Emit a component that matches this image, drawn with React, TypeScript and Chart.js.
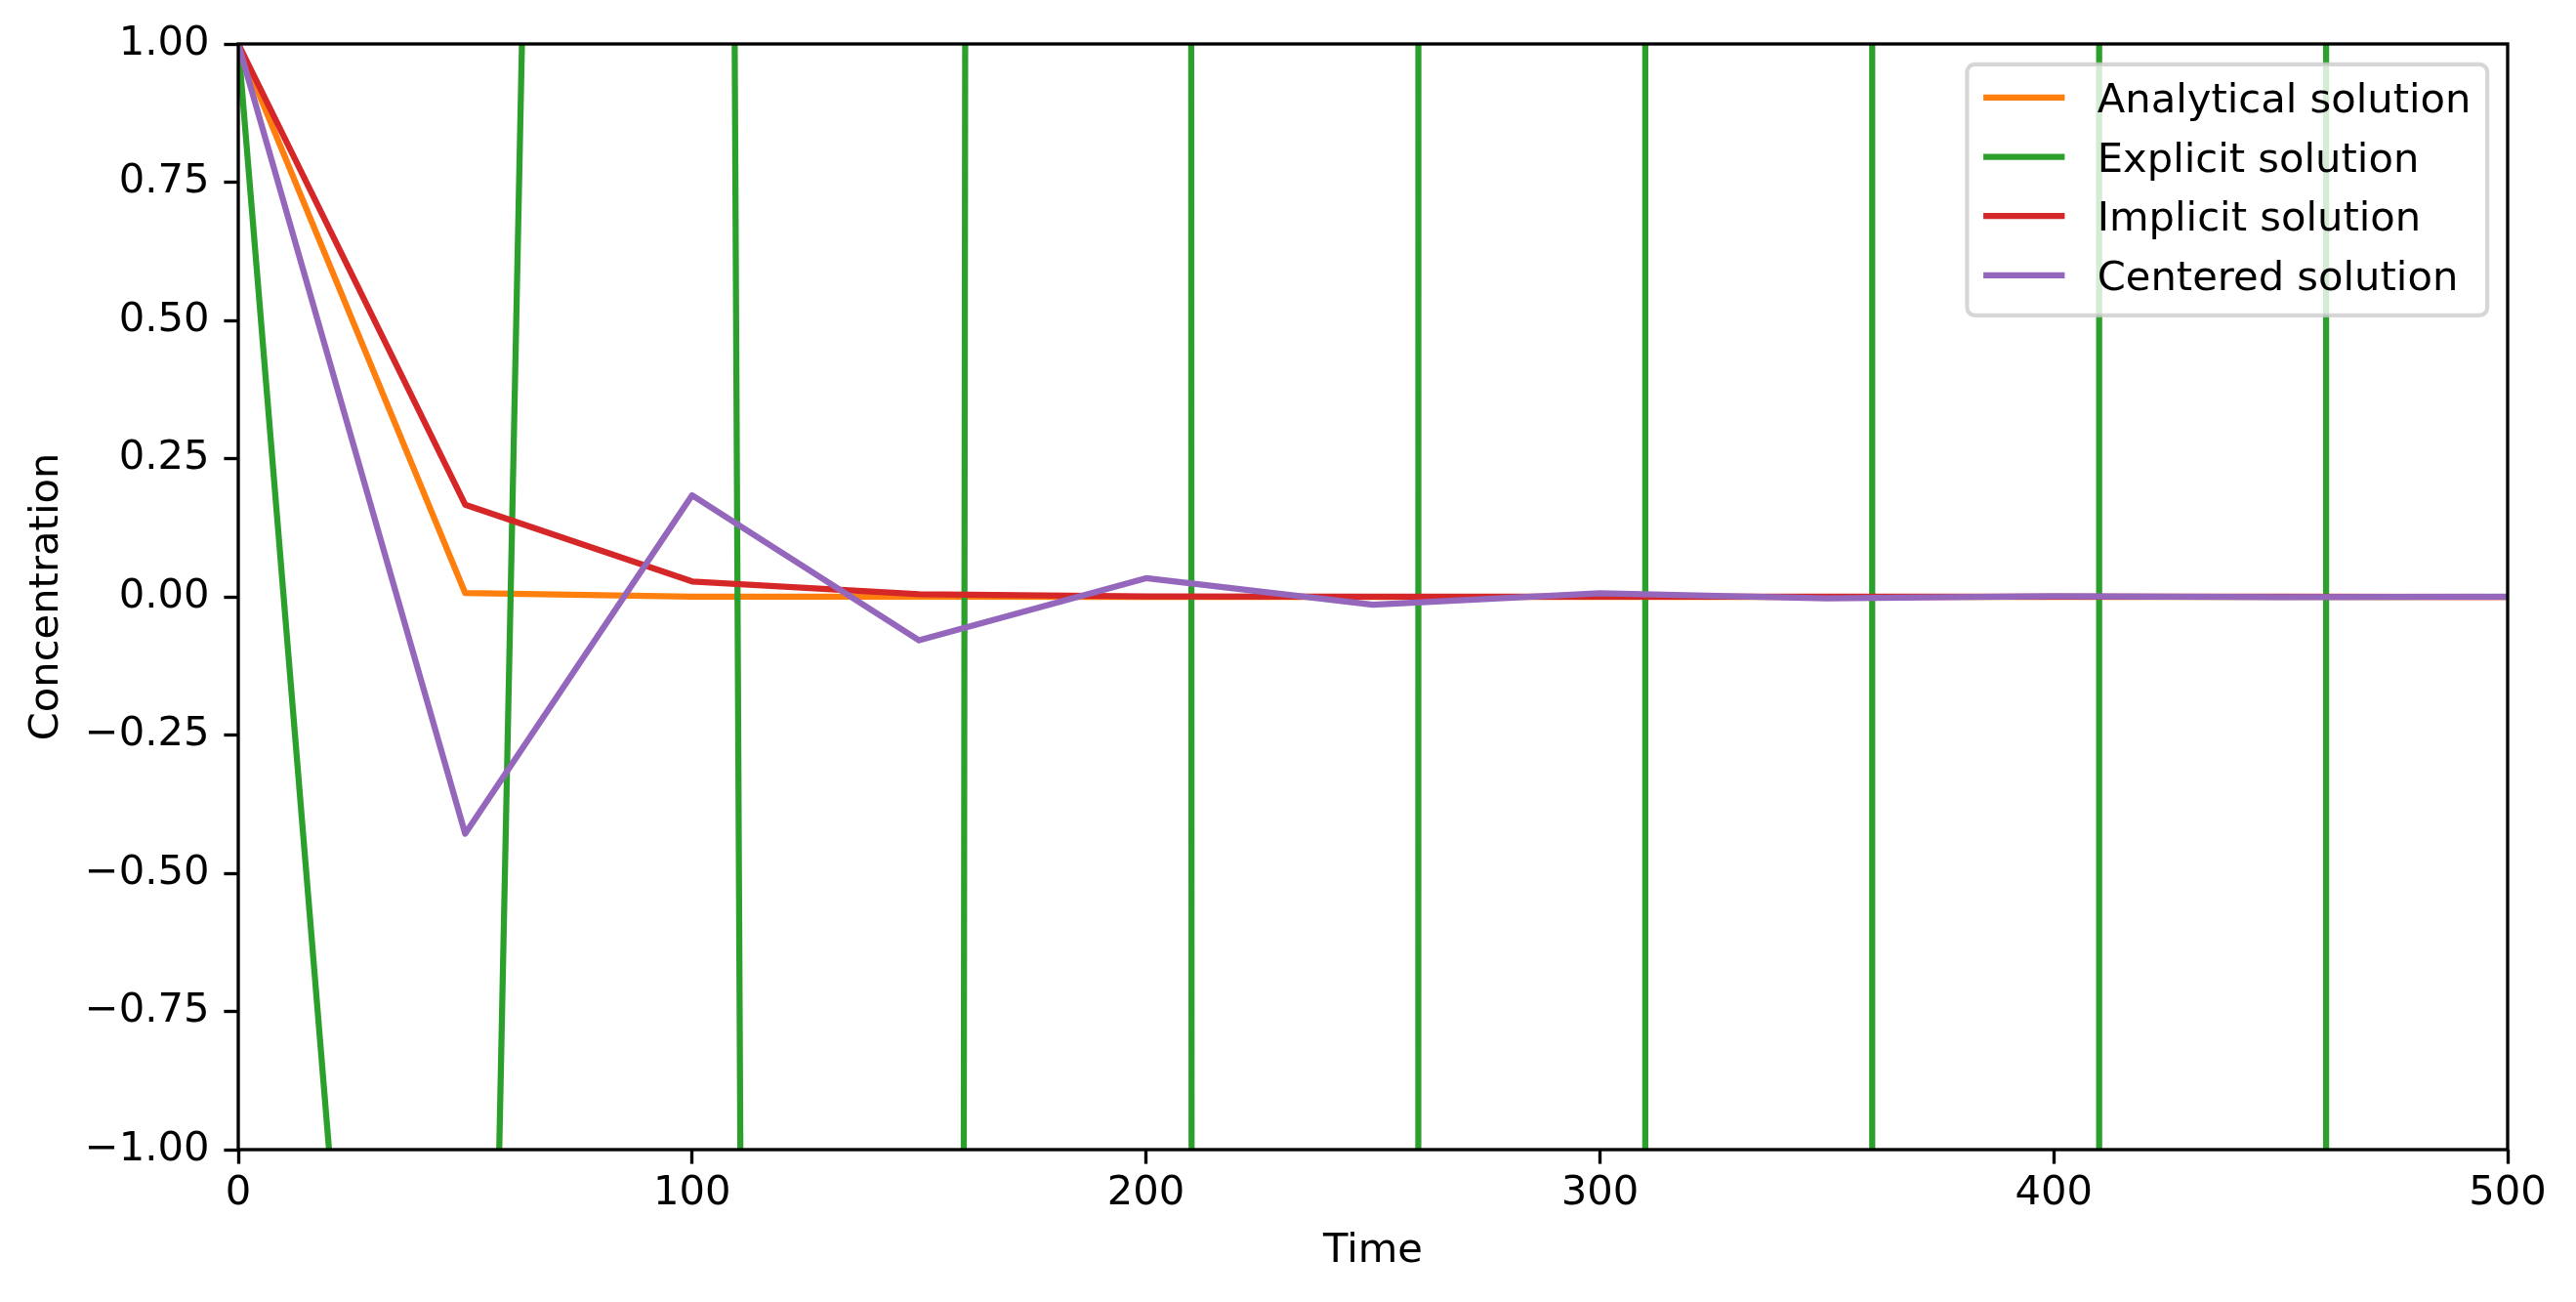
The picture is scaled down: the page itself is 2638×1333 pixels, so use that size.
import React, { useEffect, useRef } from 'react';
import { Chart, registerables, LinearScale } from 'chart.js';

// Linear scale without Chart.js's int16 pixel clamp, so very steep segments cross the axes at the true place
class UnclampedLinearScale extends LinearScale {
  static id = 'linearUnclamped';
  static defaults = (LinearScale as any).defaults;
  getPixelForDecimal(decimal: number) {
    const self: any = this;
    if (self._reversePixels) decimal = 1 - decimal;
    return self._startPixel + decimal * self._length;
  }
}

Chart.register(...registerables, UnclampedLinearScale);

// ---- data ----
const time = [0, 50, 100, 150, 200, 250, 300, 350, 400, 450, 500];
const analytical = [1, 0.006738, 0.0000454, 0.000000306, 0.00000000206, 0.0000000000139, 0, 0, 0, 0, 0];
const explicit = [1, -4, 16, -64, 256, -1024, 4096, -16384, 65536, -262144, 1048576];
const implicit = [1, 0.16667, 0.027778, 0.0046296, 0.0007716, 0.0001286, 0.0000214, 0.00000357, 0.000000595, 0.0000000992, 0.0000000165];
const centered = [1, -0.42857, 0.18367, -0.07872, 0.03374, -0.01446, 0.006196, -0.002656, 0.001138, -0.000488, 0.000209];

const seriesLabels = ['Analytical solution', 'Explicit solution', 'Implicit solution', 'Centered solution'];
const seriesColors = ['#ff7f0e', '#2ca02c', '#d62728', '#9467bd'];
const seriesValues = [analytical, explicit, implicit, centered];

const xTicks = [0, 100, 200, 300, 400, 500];
const yTicks = [-1, -0.75, -0.5, -0.25, 0, 0.25, 0.5, 0.75, 1];
const xTitle = 'Time';
const yTitle = 'Concentration';

// ---- style ----
const FONT = '"DejaVu Sans", sans-serif';
const FS = 41.67;
const LW = 6.25;
const AXW = 3.33;
const TICKLEN = 14.6;

const fmtY = (v: number) => {
  const s = Math.abs(v).toFixed(2);
  return v < 0 ? '\u2212' + s : s;
};

const framePlugin = {
  id: 'mplFrame',
  afterDatasetsDraw(chart: any) {
    const { ctx, chartArea: ca } = chart;
    ctx.save();
    ctx.strokeStyle = '#000';
    ctx.lineWidth = AXW;
    ctx.lineJoin = 'miter';
    ctx.strokeRect(ca.left, ca.top, ca.right - ca.left, ca.bottom - ca.top);
    ctx.restore();

    // legend
    ctx.save();
    ctx.font = `${FS}px ${FONT}`;
    const labels = chart.data.datasets.map((d: any) => d.label as string);
    const colors = chart.data.datasets.map((d: any) => d.borderColor as string);
    const maxW = Math.max(...labels.map((l: string) => ctx.measureText(l).width));
    const pad = 0.4 * FS;
    const handle = 2 * FS;
    const htp = 0.8 * FS;
    const right = ca.right - 0.5 * FS;
    const top = ca.top + 0.5 * FS;
    const width = pad + handle + htp + maxW + pad;
    const left = right - width;
    const height = 257;
    const r = 8;
    ctx.beginPath();
    ctx.roundRect(left, top, width, height, r);
    ctx.fillStyle = 'rgba(255,255,255,0.8)';
    ctx.fill();
    ctx.strokeStyle = 'rgba(204,204,204,0.8)';
    ctx.lineWidth = 4.17;
    ctx.stroke();
    labels.forEach((lab: string, i: number) => {
      const cy = top + 34 + i * 60.7;
      ctx.beginPath();
      ctx.strokeStyle = colors[i];
      ctx.lineWidth = LW;
      ctx.lineCap = 'butt';
      ctx.moveTo(left + pad, cy);
      ctx.lineTo(left + pad + handle, cy);
      ctx.stroke();
      ctx.fillStyle = '#000';
      ctx.textBaseline = 'alphabetic';
      ctx.textAlign = 'left';
      ctx.fillText(lab, left + pad + handle + htp, cy + 15);
    });
    ctx.restore();
  },
};

export default function App() {
  const ref = useRef<HTMLCanvasElement | null>(null);

  useEffect(() => {
    document.body.style.margin = '0';
    document.body.style.overflow = 'hidden';
    const canvas = ref.current;
    if (!canvas) return;

    const datasets = seriesLabels.map((label, i) => ({
      label,
      data: time.map((t, j) => ({ x: t, y: seriesValues[i][j] })),
      borderColor: seriesColors[i],
      backgroundColor: seriesColors[i],
      borderWidth: LW,
      pointRadius: 0,
      pointHoverRadius: 0,
      tension: 0,
      fill: false,
      clip: 0,
      order: seriesLabels.length - i,
      borderCapStyle: 'butt' as const,
      borderJoinStyle: 'round' as const,
    }));

    const chart = new Chart(canvas, {
      type: 'line',
      data: { datasets },
      options: {
        animation: false,
        responsive: false,
        maintainAspectRatio: false,
        devicePixelRatio: 1,
        events: [],
        layout: { padding: { left: 0, top: 45, right: 70, bottom: 0 } },
        plugins: {
          legend: { display: false },
          tooltip: { enabled: false },
        },
        scales: {
          x: {
            type: 'linear',
            min: 0,
            max: 500,
            afterBuildTicks: (scale: any) => {
              scale.ticks = xTicks.map((v) => ({ value: v }));
            },
            afterFit: (scale: any) => {
              scale.height = 156;
            },
            grid: {
              drawOnChartArea: false,
              drawTicks: true,
              tickLength: TICKLEN,
              tickWidth: AXW,
              tickColor: '#000',
            },
            border: { display: false },
            ticks: {
              autoSkip: false,
              maxRotation: 0,
              padding: 6,
              color: '#000',
              font: { family: FONT, size: FS },
              callback: (v: any) => String(v),
            },
            title: {
              display: true,
              text: xTitle,
              color: '#000',
              font: { family: FONT, size: FS },
              padding: { top: 0, bottom: 27 },
            },
          },
          y: {
            type: 'linearUnclamped' as any,
            min: -1,
            max: 1,
            afterBuildTicks: (scale: any) => {
              scale.ticks = yTicks.map((v) => ({ value: v }));
            },
            afterFit: (scale: any) => {
              scale.width = 244;
            },
            grid: {
              drawOnChartArea: false,
              drawTicks: true,
              tickLength: TICKLEN,
              tickWidth: AXW,
              tickColor: '#000',
            },
            border: { display: false },
            ticks: {
              autoSkip: false,
              padding: 15,
              color: '#000',
              font: { family: FONT, size: FS },
              callback: (v: any) => fmtY(Number(v)),
            },
            title: {
              display: true,
              text: yTitle,
              color: '#000',
              font: { family: FONT, size: FS },
              padding: { top: 23, bottom: 0 },
            },
          } as any,
        },
      },
      plugins: [framePlugin],
    });

    return () => {
      chart.destroy();
    };
  }, []);

  return (
    <div style={{ width: 2638, height: 1333, background: '#fff' }}>
      <canvas ref={ref} width={2638} height={1333} style={{ display: 'block', width: 2638, height: 1333 }} />
    </div>
  );
}
